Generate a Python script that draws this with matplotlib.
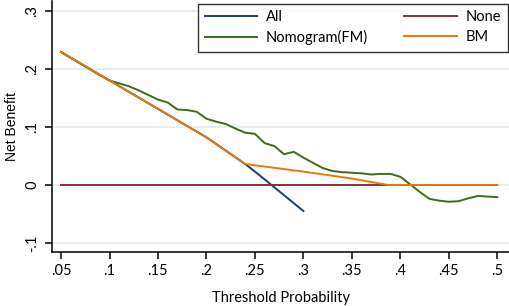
import matplotlib
matplotlib.use("Agg")
import matplotlib.pyplot as plt

# decision curve values
thresh_all = [0.05, 0.10, 0.15, 0.20, 0.24, 0.25, 0.267, 0.30]
nb_all = [0.229, 0.180, 0.131, 0.082, 0.036, 0.023, 0.0, -0.045]

thresh_nomo = [0.05, 0.06, 0.07, 0.08, 0.09, 0.10, 0.11, 0.12, 0.13, 0.14,
               0.15, 0.16, 0.17, 0.18, 0.19, 0.20, 0.21, 0.22, 0.23, 0.24,
               0.25, 0.26, 0.27, 0.28, 0.29, 0.30, 0.31, 0.32, 0.33, 0.34,
               0.35, 0.36, 0.37, 0.38, 0.39, 0.40, 0.41, 0.42, 0.43, 0.44,
               0.45, 0.46, 0.47, 0.48, 0.49, 0.50]
nb_nomo = [0.229, 0.219, 0.209, 0.199, 0.189, 0.180, 0.175, 0.170, 0.163, 0.155,
           0.147, 0.142, 0.130, 0.129, 0.126, 0.114, 0.109, 0.105, 0.097, 0.090,
           0.088, 0.072, 0.067, 0.053, 0.057, 0.047, 0.038, 0.029, 0.024, 0.022,
           0.021, 0.020, 0.018, 0.019, 0.019, 0.014, 0.001, -0.012, -0.024, -0.027,
           -0.029, -0.028, -0.023, -0.019, -0.020, -0.021]

thresh_none = [0.05, 0.50]
nb_none = [0.0, 0.0]

thresh_bm = [0.05, 0.10, 0.15, 0.20, 0.24, 0.30, 0.35, 0.387, 0.45, 0.50]
nb_bm = [0.229, 0.180, 0.131, 0.082, 0.036, 0.023, 0.011, 0.0, 0.0, 0.0]

xticks = [0.05, 0.1, 0.15, 0.2, 0.25, 0.3, 0.35, 0.4, 0.45, 0.5]
xtick_labels = [".05", ".1", ".15", ".2", ".25", ".3", ".35", ".4", ".45", ".5"]
yticks = [-0.1, 0, 0.1, 0.2, 0.3]
ytick_labels = ["-.1", "0", ".1", ".2", ".3"]

plt.rcParams['font.family'] = ['Lato', 'DejaVu Sans']

fig = plt.figure(figsize=(5.1, 3.06), dpi=100)
ax = fig.add_axes([0.102, 0.1765, 0.896, 0.8205])

for y in yticks:
    ax.axhline(y, color='#e6eef0', lw=1.4, zorder=0)

ax.plot(thresh_all, nb_all, color='#1a3f6b', lw=1.4, label='All', zorder=2)
ax.plot(thresh_nomo, nb_nomo, color='#3f6b1c', lw=1.4, label='Nomogram(FM)', zorder=3)
ax.plot(thresh_none, nb_none, color='#8c2f35', lw=1.4, label='None', zorder=4)
ax.plot(thresh_bm, nb_bm, color='#e8780e', lw=1.4, label='BM', zorder=5)

ax.set_xlim(0.0407, 0.512)
ax.set_ylim(-0.1155, 0.317)
ax.set_xticks(xticks)
ax.set_xticklabels(xtick_labels)
ax.set_yticks(yticks)
ax.set_yticklabels(ytick_labels, rotation=90, va='center')

for s in ['top', 'right']:
    ax.spines[s].set_visible(False)
for s in ['left', 'bottom']:
    ax.spines[s].set_linewidth(1.1)
ax.tick_params(direction='out', length=5, width=1.1, labelsize=10.5, pad=4)

ax.set_xlabel('Threshold Probability', fontsize=10.5, labelpad=9)
ax.set_ylabel('Net Benefit', fontsize=10, labelpad=5, family=['Liberation Sans', 'DejaVu Sans'])

leg = ax.legend(ncol=2, loc='upper left', bbox_to_anchor=(0.313, 1.0),
                frameon=True, fancybox=False, fontsize=10.5,
                handlelength=3.6, columnspacing=2.5, handletextpad=0.6,
                borderpad=0.45, labelspacing=0.4, borderaxespad=0.2)
leg.get_frame().set_edgecolor('black')
leg.get_frame().set_linewidth(1.0)

fig.savefig('out.png', dpi=100)
